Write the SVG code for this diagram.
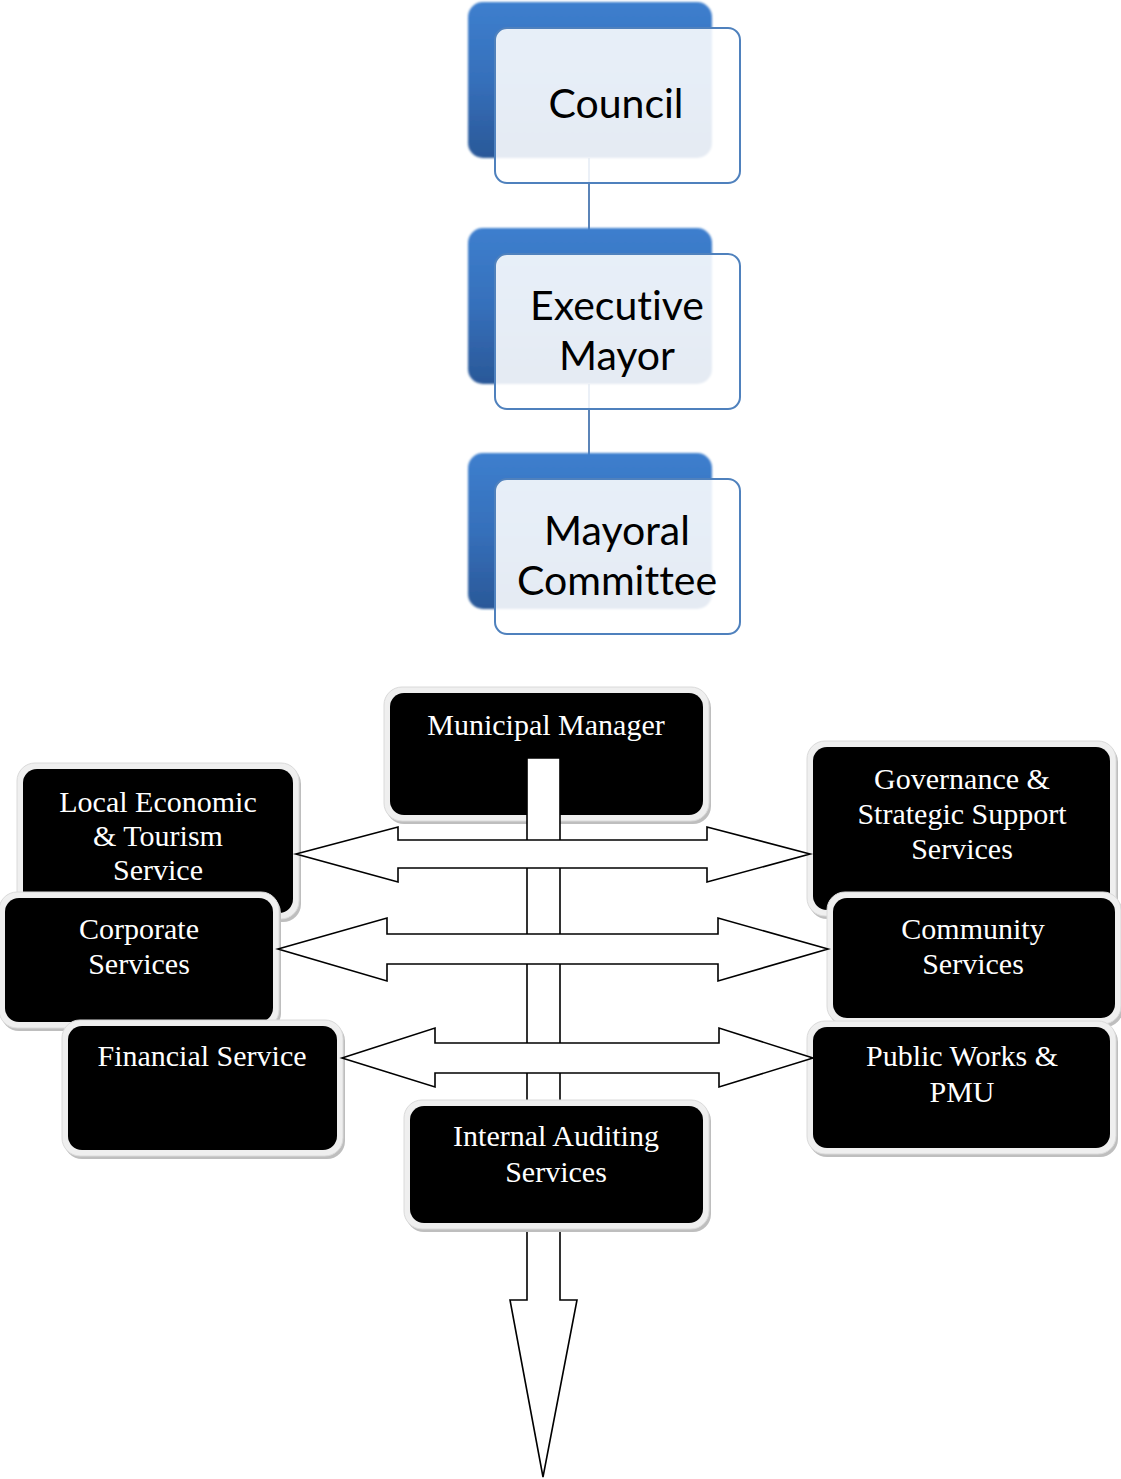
<svg xmlns="http://www.w3.org/2000/svg" width="1121" height="1479" viewBox="0 0 1121 1479">
  <defs>
    <linearGradient id="blueBack" x1="0" y1="0" x2="0" y2="1">
      <stop offset="0" stop-color="#3D7FCE"/>
      <stop offset="0.5" stop-color="#3670BB"/>
      <stop offset="1" stop-color="#2A5898"/>
    </linearGradient>
    <filter id="soft" x="-10%" y="-10%" width="120%" height="120%">
      <feGaussianBlur stdDeviation="1"/>
    </filter>
  </defs>
  <style>
    .back { fill: url(#blueBack); }
    .front { fill: #FFFFFF; fill-opacity: 0.88; stroke: #4F81BD; stroke-width: 2; }
    .link { stroke: #5B84B8; stroke-width: 2; fill: none; }
    .lbl-top { font-family: Lato, "Open Sans", sans-serif; font-size: 41px; fill: #000000; text-anchor: middle; font-variant-ligatures: none; }
    .shadow { fill: #BEBEBE; }
    .frame { fill: #EFEFEF; stroke: #DADADA; stroke-width: 1; }
    .body { fill: #000000; }
    .lbl { font-family: "Liberation Serif", "Times New Roman", serif; font-size: 30px; fill: #FFFFFF; text-anchor: middle; }
    .arrow { fill: #FFFFFF; stroke: #000000; stroke-width: 1.6; stroke-linejoin: miter; }
  </style>

  <!-- links between the upper three boxes -->
  <g id="connectors-top">
    <line class="link" x1="589" y1="158" x2="589" y2="230"/>
    <line class="link" x1="589" y1="384" x2="589" y2="455"/>
  </g>

  <!-- upper hierarchy -->
  <g id="council">
    <rect class="back" x="468" y="2" width="244" height="156" rx="15" filter="url(#soft)"/>
    <rect class="front" x="495" y="28" width="245" height="155" rx="12"/>
    <text class="lbl-top" x="616" y="118">Council</text>
  </g>
  <g id="executive-mayor">
    <rect class="back" x="468" y="228" width="244" height="156" rx="15" filter="url(#soft)"/>
    <rect class="front" x="495" y="254" width="245" height="155" rx="12"/>
    <text class="lbl-top" x="617" y="320">Executive</text>
    <text class="lbl-top" x="617" y="370">Mayor</text>
  </g>
  <g id="mayoral-committee">
    <rect class="back" x="468" y="453" width="244" height="156" rx="15" filter="url(#soft)"/>
    <rect class="front" x="495" y="479" width="245" height="155" rx="12"/>
    <text class="lbl-top" x="617" y="545">Mayoral</text>
    <text class="lbl-top" x="617" y="595">Committee</text>
  </g>

  <!-- departments -->
  <g id="local-economic">
    <rect class="shadow" x="19" y="766" width="282" height="156" rx="18"/>
    <rect class="frame" x="17" y="763" width="282" height="156" rx="18"/>
    <rect class="body" x="23" y="769" width="270" height="144" rx="14"/>
    <text class="lbl" x="158" y="812">Local Economic</text>
    <text class="lbl" x="158" y="846">&amp; Tourism</text>
    <text class="lbl" x="158" y="880">Service</text>
  </g>
  <g id="governance">
    <rect class="shadow" x="809" y="744" width="309" height="175" rx="18"/>
    <rect class="frame" x="807" y="741" width="309" height="175" rx="18"/>
    <rect class="body" x="813" y="747" width="297" height="163" rx="14"/>
    <text class="lbl" x="962" y="789">Governance &amp;</text>
    <text class="lbl" x="962" y="824">Strategic Support</text>
    <text class="lbl" x="962" y="859">Services</text>
  </g>
  <g id="corporate">
    <rect class="shadow" x="1" y="895" width="280" height="136" rx="18"/>
    <rect class="frame" x="-1" y="892" width="280" height="136" rx="18"/>
    <rect class="body" x="5" y="898" width="268" height="124" rx="14"/>
    <text class="lbl" x="139" y="939">Corporate</text>
    <text class="lbl" x="139" y="974">Services</text>
  </g>
  <g id="community">
    <rect class="shadow" x="829" y="895" width="294" height="132" rx="18"/>
    <rect class="frame" x="827" y="892" width="294" height="132" rx="18"/>
    <rect class="body" x="833" y="898" width="282" height="120" rx="14"/>
    <text class="lbl" x="973" y="939">Community</text>
    <text class="lbl" x="973" y="974">Services</text>
  </g>
  <g id="financial">
    <rect class="shadow" x="64" y="1023" width="281" height="136" rx="18"/>
    <rect class="frame" x="62" y="1020" width="281" height="136" rx="18"/>
    <rect class="body" x="68" y="1026" width="269" height="124" rx="14"/>
    <text class="lbl" x="202" y="1066">Financial Service</text>
  </g>
  <g id="public-works">
    <rect class="shadow" x="809" y="1024" width="309" height="133" rx="18"/>
    <rect class="frame" x="807" y="1021" width="309" height="133" rx="18"/>
    <rect class="body" x="813" y="1027" width="297" height="121" rx="14"/>
    <text class="lbl" x="962" y="1066">Public Works &amp;</text>
    <text class="lbl" x="962" y="1102">PMU</text>
  </g>
  <g id="municipal-manager">
    <rect class="shadow" x="386" y="690" width="325" height="134" rx="18"/>
    <rect class="frame" x="384" y="687" width="325" height="134" rx="18"/>
    <rect class="body" x="390" y="693" width="313" height="122" rx="14"/>
    <text class="lbl" x="546" y="735">Municipal Manager</text>
  </g>

  <!-- block arrows -->
  <g id="connectors">
    <polygon class="arrow" points="527,758 560,758 560,1300 577,1300 543,1477 510,1300 527,1300"/>
    <polygon class="arrow" points="296,854 398,827 398,840 707,840 707,827 810,854 707,882 707,868 398,868 398,882"/>
    <polygon class="arrow" points="278,949 387,918 387,934 718,934 718,918 828,949 718,981 718,964 387,964 387,981"/>
    <polygon class="arrow" points="342,1058 435,1028 435,1043 719,1043 719,1028 813,1058 719,1087 719,1073 435,1073 435,1087"/>
  </g>

  <g id="internal-auditing">
    <rect class="shadow" x="406" y="1103" width="305" height="129" rx="18"/>
    <rect class="frame" x="404" y="1100" width="305" height="129" rx="18"/>
    <rect class="body" x="410" y="1106" width="293" height="117" rx="14"/>
    <text class="lbl" x="556" y="1146">Internal Auditing</text>
    <text class="lbl" x="556" y="1182">Services</text>
  </g>
</svg>
